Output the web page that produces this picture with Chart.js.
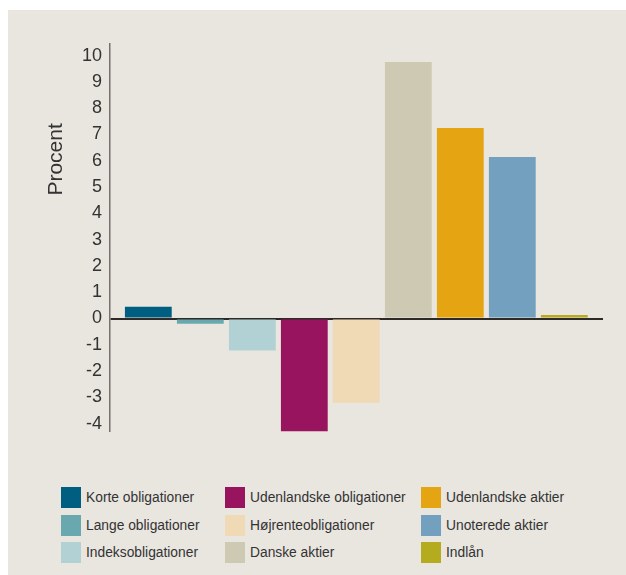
<!DOCTYPE html>
<html>
<head>
<meta charset="utf-8">
<script src="https://cdn.jsdelivr.net/npm/chart.js@4/dist/chart.umd.min.js"></script>
<style>
  html, body { margin: 0; padding: 0; background: #ffffff; }
  #panel {
    position: absolute; left: 8px; top: 10px; width: 618px; height: 565px;
    background: #E9E5DF; overflow: hidden;
    font-family: "Liberation Sans", Arial, sans-serif;
  }
  #chartBox { position: absolute; left: 0; top: 0; width: 618px; height: 460px; }
  #legend {
    position: absolute; left: 53px; top: 477px;
    display: grid; grid-auto-flow: column;
    grid-template-rows: repeat(3, 21px); row-gap: 6.5px;
    grid-template-columns: 164px 196px auto;
  }
  .item { display: flex; align-items: center; height: 21px; }
  .sw { width: 20px; height: 21px; margin-right: 5px; flex: none; }
  .lbl { font-size: 13.8px; color: #333333; white-space: nowrap; }
</style>
</head>
<body>
<div id="panel">
  <div id="chartBox"><canvas id="c" width="618" height="460"></canvas></div>
  <div id="legend"></div>
</div>
<script>
// Asset classes and their returns in percent
const categories = [
  'Korte obligationer',
  'Lange obligationer',
  'Indeksobligationer',
  'Udenlandske obligationer',
  'Højrenteobligationer',
  'Danske aktier',
  'Udenlandske aktier',
  'Unoterede aktier',
  'Indlån'
];
const returns = [0.45, -0.2, -1.22, -4.3, -3.2, 9.75, 7.24, 6.14, 0.13];
const colors = [
  '#005F80', '#6AA8B0', '#B2D1D4', '#98145E', '#F0D9B5',
  '#CDC9B2', '#E5A412', '#73A0BF', '#B5AB1E'
];
const yTicks = [-4, -3, -2, -1, 0, 1, 2, 3, 4, 5, 6, 7, 8, 9, 10];
const yTitle = 'Procent';

const FONT = '"Liberation Sans", Arial, sans-serif';

// Rotated axis title, placed beside the upper half of the axis
const axisTitle = {
  id: 'axisTitle',
  afterDraw(chart) {
    const { ctx, scales: { y } } = chart;
    ctx.save();
    ctx.translate(y.left + 48.5, y.getPixelForValue(6.05));
    ctx.rotate(-Math.PI / 2);
    ctx.font = '21px ' + FONT;
    ctx.fillStyle = '#333333';
    ctx.textAlign = 'center';
    ctx.textBaseline = 'middle';
    ctx.fillText(yTitle, 0, 0);
    ctx.restore();
  }
};

new Chart(document.getElementById('c'), {
  type: 'bar',
  data: {
    labels: categories,
    datasets: [{
      data: categories.map((c, i) => ({ x: i, y: returns[i] })),
      backgroundColor: colors,
      borderWidth: 0,
      categoryPercentage: 0.9,
      barPercentage: 1.0
    }]
  },
  options: {
    responsive: false,
    animation: false,
    layout: { padding: { top: 33.7, right: 23, bottom: 38.4, left: 0 } },
    plugins: { legend: { display: false }, tooltip: { enabled: false } },
    scales: {
      x: {
        type: 'linear',
        display: false,
        offset: false,
        min: -0.737,
        max: 8.744
      },
      y: {
        min: -4.3,
        max: 10.45,
        z: 1,
        afterFit(scale) { scale.width = 102; },
        afterBuildTicks(scale) { scale.ticks = yTicks.map(v => ({ value: v })); },
        border: { display: true, color: '#77716C', width: 1.5 },
        grid: {
          drawTicks: false,
          color: ctx => (ctx.tick && ctx.tick.value === 0 ? '#2E2A28' : 'rgba(0,0,0,0)'),
          lineWidth: ctx => (ctx.tick && ctx.tick.value === 0 ? 2 : 0)
        },
        ticks: {
          padding: 8,
          color: '#333333',
          font: { family: FONT, size: 18 }
        }
      }
    }
  },
  plugins: [axisTitle]
});

// Legend: three columns, filled top to bottom
const legend = document.getElementById('legend');
categories.forEach((name, i) => {
  const item = document.createElement('div');
  item.className = 'item';
  const sw = document.createElement('span');
  sw.className = 'sw';
  sw.style.background = colors[i];
  const lbl = document.createElement('span');
  lbl.className = 'lbl';
  lbl.textContent = name;
  item.appendChild(sw);
  item.appendChild(lbl);
  legend.appendChild(item);
});
</script>
</body>
</html>
